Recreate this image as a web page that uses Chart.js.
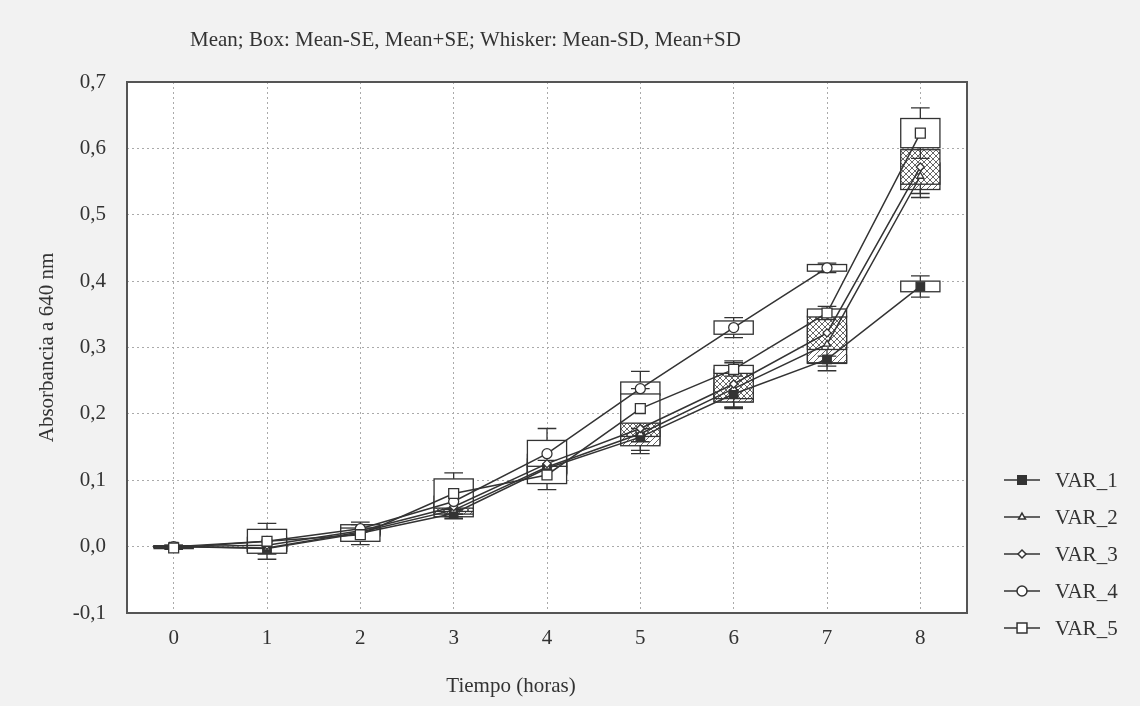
<!DOCTYPE html>
<html>
<head>
<meta charset="utf-8">
<title>Absorbancia a 640 nm</title>
<script src="https://cdn.jsdelivr.net/npm/chart.js@4.4.0/dist/chart.umd.min.js"></script>
<style>
    html, body { margin: 0; padding: 0; background: #f2f2f2; }
    #wrap { width: 1140px; height: 706px; }
</style>
</head>
<body>
<div id="wrap"><canvas id="chart" width="1140" height="706"></canvas></div>
<script>
// DATA
const hours = [0, 1, 2, 3, 4, 5, 6, 7, 8];
const yTicks = [-0.1, 0, 0.1, 0.2, 0.3, 0.4, 0.5, 0.6, 0.7];
const varNames = ['VAR_1', 'VAR_2', 'VAR_3', 'VAR_4', 'VAR_5'];

const var1Mean = [0, -0.003, 0.020, 0.050, 0.118, 0.165, 0.230, 0.282, 0.392];
const var1SE   = [0.001, 0.004, 0.004, 0.005, 0.008, 0.010, 0.012, 0.006, 0.008];
const var1SD   = [0.002, 0.008, 0.007, 0.008, 0.013, 0.020, 0.020, 0.010, 0.016];

const var2Mean = [0, -0.002, 0.022, 0.055, 0.120, 0.170, 0.238, 0.305, 0.558];
const var2SE   = [0.001, 0.005, 0.004, 0.006, 0.012, 0.018, 0.020, 0.028, 0.020];
const var2SD   = [0.002, 0.009, 0.008, 0.010, 0.020, 0.030, 0.030, 0.040, 0.032];

const var3Mean = [0, 0.002, 0.024, 0.060, 0.125, 0.178, 0.245, 0.322, 0.572];
const var3SE   = [0.001, 0.004, 0.005, 0.007, 0.014, 0.012, 0.022, 0.025, 0.026];
const var3SD   = [0.002, 0.008, 0.009, 0.011, 0.022, 0.020, 0.035, 0.035, 0.040];

const var4Mean = [0, 0.008, 0.027, 0.068, 0.140, 0.238, 0.330, 0.420, null];
const var4SE   = [0.001, 0.006, 0.006, 0.008, 0.020, 0.010, 0.010, 0.005, null];
const var4SD   = [0.002, 0.010, 0.010, 0.012, 0.038, 0.026, 0.015, 0.007, null];

const var5Mean = [-0.002, 0.008, 0.018, 0.080, 0.108, 0.208, 0.267, 0.352, 0.623];
const var5SE   = [0.001, 0.018, 0.010, 0.022, 0.013, 0.022, 0.006, 0.006, 0.022];
const var5SD   = [0.002, 0.027, 0.015, 0.031, 0.022, 0.030, 0.010, 0.010, 0.038];

const means = [var1Mean, var2Mean, var3Mean, var4Mean, var5Mean];
const ses = [var1SE, var2SE, var3SE, var4SE, var5SE];
const sds = [var1SD, var2SD, var3SD, var4SD, var5SD];

const ink = '#333';
const serif = '"Liberation Serif", "DejaVu Serif", serif';
const fontSize = 21;

// marker styles per variable
const markers = [
    { pointStyle: 'rect', radius: 6, fill: ink },
    { pointStyle: 'triangle', radius: 4, fill: '#fff' },
    { pointStyle: 'rectRot', radius: 4, fill: '#fff' },
    { pointStyle: 'circle', radius: 5, fill: '#fff' },
    { pointStyle: 'rect', radius: 7, fill: '#fff' },
];

// hatch patterns for the SE boxes
function makePattern(kind) {
    const c = document.createElement('canvas');
    c.width = 6; c.height = 6;
    const g = c.getContext('2d');
    g.fillStyle = '#fff';
    g.fillRect(0, 0, 6, 6);
    g.strokeStyle = '#666';
    g.lineWidth = 1;
    g.beginPath();
    g.moveTo(0, 6); g.lineTo(6, 0);
    if (kind === 'cross') { g.moveTo(0, 0); g.lineTo(6, 6); }
    g.stroke();
    return g.createPattern(c, 'repeat');
}

const ctx = document.getElementById('chart').getContext('2d');
const boxFills = ['#fff', makePattern('diag'), makePattern('cross'), '#fff', '#fff'];

const boxPlugin = {
    id: 'boxPlot',
    beforeDraw(chart) {
        const { ctx, chartArea: a } = chart;
        ctx.save();
        ctx.fillStyle = '#f2f2f2';
        ctx.fillRect(0, 0, chart.width, chart.height);
        ctx.fillStyle = '#fff';
        ctx.fillRect(a.left, a.top, a.right - a.left, a.bottom - a.top);
        ctx.restore();
    },
    beforeDatasetsDraw(chart) {
        const { ctx, scales: { x, y } } = chart;
        const half = x.getPixelForValue(0.21) - x.getPixelForValue(0);
        const cap = x.getPixelForValue(0.1) - x.getPixelForValue(0);
        ctx.save();
        ctx.strokeStyle = ink;
        ctx.lineWidth = 1.3;
        means.forEach((m, s) => {
            hours.forEach((h, i) => {
                if (m[i] === null) return;
                const px = x.getPixelForValue(h);
                const top = y.getPixelForValue(m[i] + ses[s][i]);
                const bot = y.getPixelForValue(m[i] - ses[s][i]);
                const wTop = y.getPixelForValue(m[i] + sds[s][i]);
                const wBot = y.getPixelForValue(m[i] - sds[s][i]);
                ctx.beginPath();
                ctx.moveTo(px, top); ctx.lineTo(px, wTop);
                ctx.moveTo(px - cap, wTop); ctx.lineTo(px + cap, wTop);
                ctx.moveTo(px, bot); ctx.lineTo(px, wBot);
                ctx.moveTo(px - cap, wBot); ctx.lineTo(px + cap, wBot);
                ctx.stroke();
                ctx.fillStyle = boxFills[s];
                ctx.fillRect(px - half, top, half * 2, bot - top);
                ctx.strokeRect(px - half, top, half * 2, bot - top);
            });
        });
        ctx.restore();
    },
    afterDraw(chart) {
        const { ctx, chartArea: a } = chart;
        ctx.save();
        // plot frame
        ctx.strokeStyle = '#555';
        ctx.lineWidth = 2;
        ctx.strokeRect(a.left, a.top, a.right - a.left, a.bottom - a.top);

        // header and axis titles
        ctx.fillStyle = ink;
        ctx.font = fontSize + 'px ' + serif;
        ctx.textBaseline = 'middle';
        ctx.textAlign = 'left';
        ctx.fillText('Mean; Box: Mean-SE, Mean+SE; Whisker: Mean-SD, Mean+SD', 190, 40);
        ctx.textAlign = 'center';
        ctx.fillText('Tiempo (horas)', 511, 686);
        ctx.save();
        ctx.translate(47, (a.top + a.bottom) / 2);
        ctx.rotate(-Math.PI / 2);
        ctx.fillText('Absorbancia a 640 nm', 0, 0);
        ctx.restore();

        // legend
        ctx.textAlign = 'left';
        varNames.forEach((name, s) => {
            const ly = 480 + s * 37;
            ctx.strokeStyle = ink;
            ctx.lineWidth = 1.5;
            ctx.beginPath();
            ctx.moveTo(1004, ly); ctx.lineTo(1040, ly);
            ctx.stroke();
            ctx.fillStyle = markers[s].fill;
            Chart.helpers.drawPoint(ctx, {
                pointStyle: markers[s].pointStyle,
                radius: markers[s].radius,
                borderWidth: 1.3,
                rotation: 0
            }, 1022, ly);
            ctx.fillStyle = ink;
            ctx.fillText(name, 1055, ly + 1);
        });
        ctx.restore();
    }
};

new Chart(ctx, {
    type: 'line',
    data: {
        datasets: varNames.map((name, s) => ({
            label: name,
            data: hours.map((h, i) => ({ x: h, y: means[s][i] })),
            order: 4 - s,
            borderColor: ink,
            borderWidth: 1.5,
            pointStyle: markers[s].pointStyle,
            pointRadius: markers[s].radius,
            pointBackgroundColor: markers[s].fill,
            pointBorderColor: ink,
            pointBorderWidth: 1.3,
            spanGaps: false,
            tension: 0
        }))
    },
    options: {
        responsive: false,
        animation: false,
        layout: { padding: { top: 82, right: 173, left: 0, bottom: 0 } },
        plugins: {
            legend: { display: false },
            tooltip: { enabled: false }
        },
        scales: {
            x: {
                type: 'linear',
                min: -0.5,
                max: 8.5,
                afterBuildTicks: (scale) => { scale.ticks = hours.map(v => ({ value: v })); },
                afterFit: (scale) => { scale.height = 93; },
                ticks: { color: ink, padding: 13, font: { family: serif, size: fontSize }, callback: v => String(v) },
                grid: { color: '#aaa', drawTicks: false },
                border: { display: false, dash: [2, 3] }
            },
            y: {
                min: -0.1,
                max: 0.7,
                afterBuildTicks: (scale) => { scale.ticks = yTicks.map(v => ({ value: v })); },
                afterFit: (scale) => { scale.width = 127; },
                ticks: {
                    color: ink,
                    padding: 21,
                    font: { family: serif, size: fontSize },
                    callback: v => v.toFixed(1).replace('.', ',')
                },
                grid: { color: '#aaa', drawTicks: false },
                border: { display: false, dash: [2, 3] }
            }
        }
    },
    plugins: [boxPlugin]
});
</script>
</body>
</html>
